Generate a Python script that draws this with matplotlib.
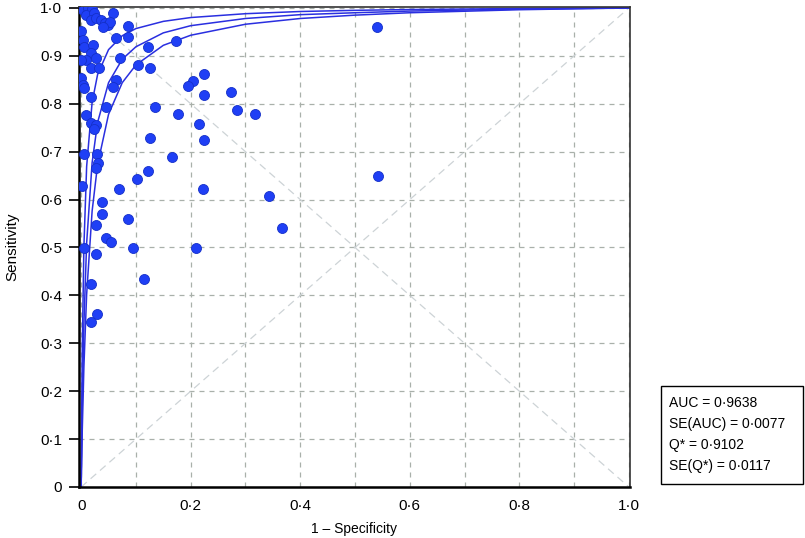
import matplotlib
matplotlib.use('Agg')
import matplotlib.pyplot as plt
import matplotlib.patches as patches
from matplotlib.ticker import MultipleLocator

plt.rcParams['font.family'] = ['Liberation Sans', 'DejaVu Sans']

# Study points: 1 - specificity and sensitivity
fpr = [0.003, 0.012, 0.020, 0.009, 0.024, 0.018, 0.027, 0.036, 0.043, 0.049,
       0.058, 0.052, 0.040, 0.085, 0.085, 0.064, 0.000, 0.003, 0.006, 0.021,
       0.018, 0.009, 0.027, 0.000, 0.018, 0.033, 0.070, 0.103, 0.125, 0.122,
       0.173, 0.000, 0.003, 0.006, 0.064, 0.058, 0.018, 0.046, 0.134, 0.176,
       0.009, 0.018, 0.027, 0.024, 0.125,
       0.224, 0.205, 0.195, 0.224, 0.274, 0.285, 0.318, 0.215, 0.224, 0.540,
       0.542, 0.222, 0.343, 0.367, 0.210,
       0.005, 0.029, 0.166, 0.031, 0.027, 0.122, 0.102, 0.002, 0.069, 0.038,
       0.038, 0.086, 0.027, 0.046, 0.055, 0.005, 0.095, 0.027, 0.115, 0.018,
       0.029, 0.018]
sens = [0.996, 0.999, 0.997, 0.985, 0.989, 0.975, 0.979, 0.975, 0.968, 0.965,
        0.989, 0.971, 0.960, 0.962, 0.940, 0.937, 0.951, 0.933, 0.919, 0.923,
        0.905, 0.891, 0.895, 0.891, 0.874, 0.874, 0.895, 0.881, 0.874, 0.919,
        0.930, 0.853, 0.839, 0.832, 0.850, 0.836, 0.815, 0.794, 0.794, 0.778,
        0.777, 0.759, 0.755, 0.748, 0.728,
        0.862, 0.848, 0.837, 0.818, 0.825, 0.787, 0.779, 0.758, 0.724, 0.960,
        0.650, 0.622, 0.607, 0.541, 0.499,
        0.695, 0.695, 0.689, 0.676, 0.666, 0.660, 0.643, 0.628, 0.622, 0.595,
        0.570, 0.560, 0.547, 0.520, 0.511, 0.499, 0.499, 0.486, 0.434, 0.424,
        0.361, 0.344]

# SROC curve and its two bounds
curve_x = [0.0, 0.0005, 0.002, 0.005, 0.01, 0.02, 0.03, 0.05, 0.075, 0.1,
           0.15, 0.2, 0.3, 0.4, 0.5, 0.6, 0.8, 1.0]
curve_mid = [0.0, 0.049, 0.171, 0.340, 0.509, 0.677, 0.761, 0.844, 0.893, 0.919,
             0.948, 0.963, 0.978, 0.986, 0.990, 0.9935, 0.9976, 1.0]
curve_low = [0.0, 0.032, 0.118, 0.251, 0.402, 0.576, 0.673, 0.778, 0.844, 0.881,
             0.922, 0.943, 0.966, 0.978, 0.985, 0.990, 0.9963, 1.0]
curve_high = [0.0, 0.091, 0.286, 0.502, 0.669, 0.803, 0.861, 0.913, 0.942, 0.957,
              0.972, 0.980, 0.988, 0.9926, 0.995, 0.9967, 0.9988, 1.0]

# Summary statistics shown in the box
stats_lines = ['AUC = 0\u00b79638', 'SE(AUC) = 0\u00b70077',
               'Q* = 0\u00b79102', 'SE(Q*) = 0\u00b70117']

tick_values = [i / 10 for i in range(11)]
y_tick_labels = ['0', '0\u00b71', '0\u00b72', '0\u00b73', '0\u00b74', '0\u00b75',
                 '0\u00b76', '0\u00b77', '0\u00b78', '0\u00b79', '1\u00b70']
x_tick_values = [0.0, 0.2, 0.4, 0.6, 0.8, 1.0]
x_tick_labels = ['0', '0\u00b72', '0\u00b74', '0\u00b76', '0\u00b78', '1\u00b70']


def plot_sroc():
    fig = plt.figure(figsize=(8.05, 5.38), dpi=100)
    ax = fig.add_axes([0.0981, 0.0948, 0.6845, 0.8922])

    # dashed grid every 0.1
    ax.xaxis.set_minor_locator(MultipleLocator(0.1))
    ax.yaxis.set_minor_locator(MultipleLocator(0.1))
    ax.grid(which='both', linestyle=(0, (4, 4)), color='#a9b0aa', linewidth=0.9)
    ax.set_axisbelow(True)

    # reference diagonals
    ax.plot([0, 1], [0, 1], linestyle=(0, (6, 4)), color='#cdd3d6', linewidth=0.9, zorder=1)
    ax.plot([0, 1], [1, 0], linestyle=(0, (6, 4)), color='#cdd3d6', linewidth=0.9, zorder=1)

    # SROC curve and bounds
    for ys in (curve_low, curve_mid, curve_high):
        ax.plot(curve_x, ys, color='#2a2fe0', linewidth=1.1, zorder=2)

    ax.plot(fpr, sens, linestyle='none', marker='o', markersize=7.2,
            markerfacecolor='#1f3ff5', markeredgecolor='#1530c8',
            markeredgewidth=0.6, zorder=3)

    ax.set_xlim(-0.004, 1.002)
    ax.set_ylim(0, 1.002)
    ax.set_xticks(x_tick_values)
    ax.set_xticklabels(x_tick_labels)
    ax.set_yticks(tick_values)
    ax.set_yticklabels(y_tick_labels)
    ax.tick_params(which='major', direction='out', length=7, width=1.2,
                   labelsize=11, pad=5)
    ax.tick_params(which='minor', length=0)
    ax.tick_params(axis='x', length=0, pad=9)

    for side in ['left', 'bottom']:
        ax.spines[side].set_linewidth(1.8)
    for side in ['top', 'right']:
        ax.spines[side].set_linewidth(1.2)
        ax.spines[side].set_color('#333333')

    ax.set_xlabel('1 \u2013 Specificity', fontsize=10, labelpad=6)
    ax.set_ylabel('Sensitivity', fontsize=11, labelpad=15)

    # statistics box at the lower right
    box = patches.Rectangle((0.8211, 0.1004), 0.1764, 0.1822, transform=fig.transFigure,
                            facecolor='white', edgecolor='black', linewidth=1)
    fig.patches.append(box)
    for i, line in enumerate(stats_lines):
        fig.text(0.831, 0.2509 - i * 0.0390, line, fontsize=10, va='center', ha='left')

    plt.savefig('out.png', dpi=100)


plot_sroc()
